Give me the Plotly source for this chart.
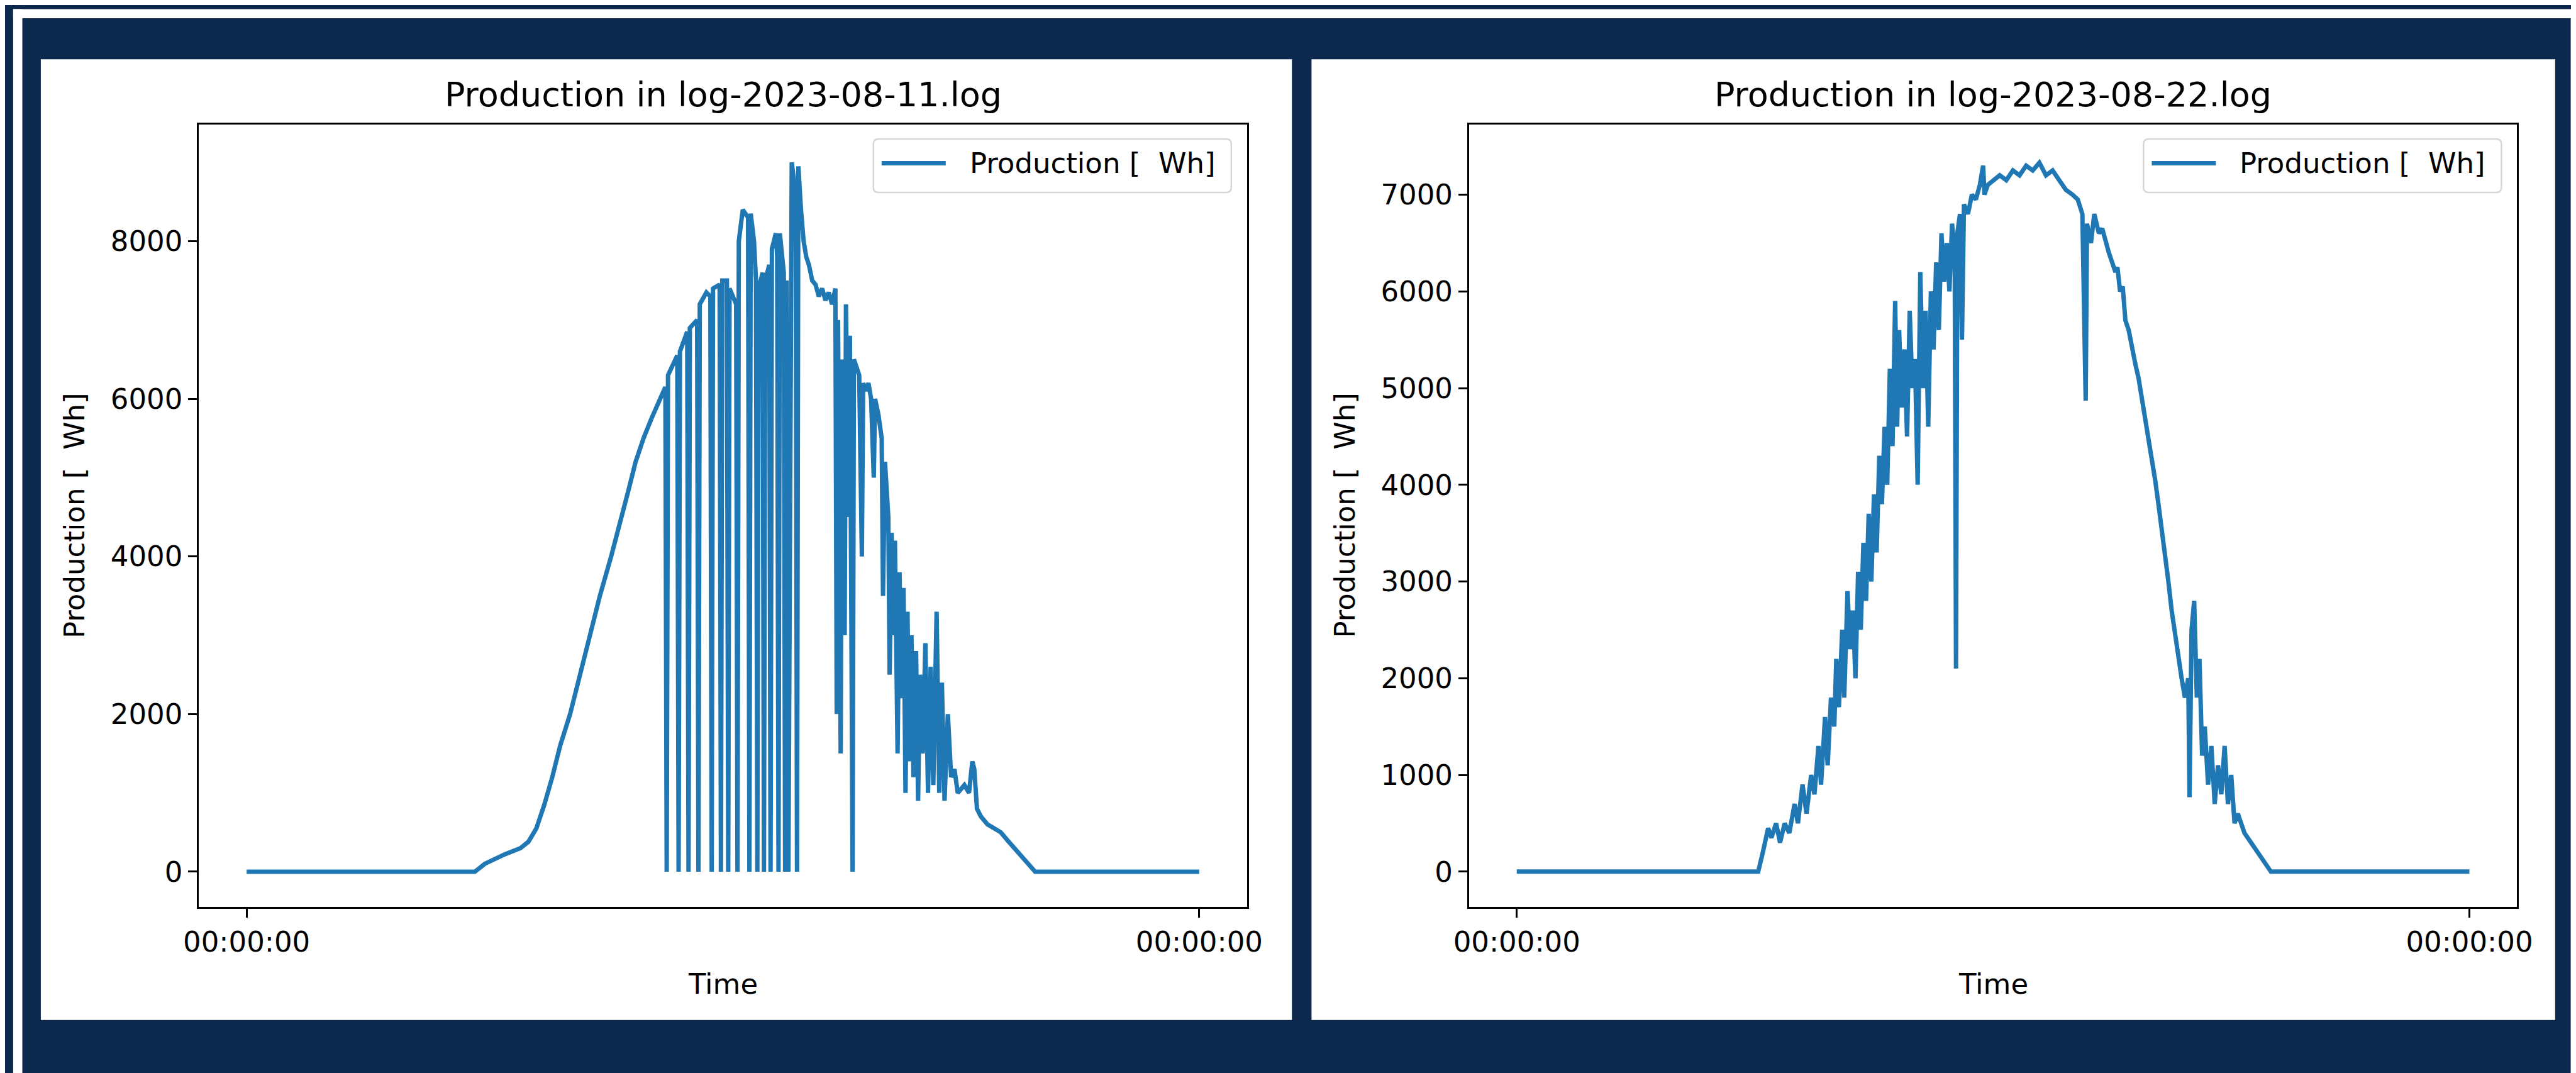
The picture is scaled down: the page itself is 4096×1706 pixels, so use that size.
import plotly.graph_objects as go

W, H = 4096, 1706
NAVY = "#0c294d"
LINE = "#1f77b4"
FONT = "DejaVu Sans"

# ---------------- data ----------------
titles = ["Production in log-2023-08-11.log", "Production in log-2023-08-22.log"]
series_name = "Production [ \u00a0Wh]"
x_tick_labels = ["00:00:00", "00:00:00"]
y_ticks_0811 = [0, 2000, 4000, 6000, 8000]
y_ticks_0822 = [0, 1000, 2000, 3000, 4000, 5000, 6000, 7000]

times_0811 = [
    "00:00", "05:45", "06:00", "06:30", "06:54", "07:06", "07:18", "07:30", "07:42", "07:54",
    "08:09", "08:24", "08:39", "08:54", "09:11", "09:24", "09:36", "09:48", "10:00", "10:12",
    "10:26", "10:33", "10:35", "10:37", "10:51", "10:53", "10:55", "11:06", "11:08", "11:10",
    "11:21", "11:23", "11:25", "11:35", "11:41", "11:43", "11:45", "11:55", "11:57", "11:59",
    "12:06", "12:08", "12:10", "12:20", "12:22", "12:24", "12:30", "12:38", "12:40", "12:42",
    "12:47", "12:50", "12:52", "12:54", "13:00", "13:02", "13:04", "13:10", "13:12", "13:14",
    "13:20", "13:22", "13:24", "13:26", "13:32", "13:34", "13:36", "13:39", "13:44", "13:48",
    "13:50", "13:52", "13:54", "13:58", "14:02", "14:06", "14:10", "14:15", "14:20", "14:25",
    "14:30", "14:35", "14:40", "14:45", "14:50", "14:52", "14:54", "14:58", "15:00", "15:04",
    "15:06", "15:10", "15:12", "15:16", "15:18", "15:22", "15:26", "15:30", "15:32", "15:36",
    "15:40", "15:44", "15:48", "15:50", "15:55", "16:00", "16:02", "16:05", "16:10", "16:12",
    "16:15", "16:18", "16:20", "16:24", "16:27", "16:30", "16:33", "16:36", "16:39", "16:42",
    "16:45", "16:48", "16:52", "16:55", "16:58", "17:02", "17:06", "17:10", "17:14", "17:18",
    "17:23", "17:27", "17:31", "17:35", "17:40", "17:45", "17:50", "17:55", "18:05", "18:12",
    "18:17", "18:20", "18:24", "18:30", "18:40", "18:50", "19:00", "19:10", "19:20", "19:30",
    "19:40", "19:52", "24:00",
]
prod_0811 = [
    0, 0, 100, 220, 300, 380, 550, 850, 1200, 1600,
    2000, 2500, 3000, 3500, 4000, 4400, 4800, 5200, 5500, 5750,
    6000, 6150, 0, 6300, 6550, 0, 6600, 6850, 0, 6900,
    7000, 0, 7200, 7350, 7300, 0, 7400, 7450, 0, 7500,
    7500, 0, 7400, 7200, 0, 8000, 8400, 8300, 0, 8350,
    8000, 7500, 0, 7400, 7600, 0, 7500, 7700, 0, 7900,
    8100, 7800, 0, 8100, 7600, 0, 7500, 0, 9000, 8700,
    8600, 0, 8950, 8400, 8000, 7800, 7700, 7500, 7450, 7300,
    7400, 7250, 7350, 7200, 7400, 2000, 7000, 1500, 6500, 3000,
    7200, 4500, 6800, 0, 6500, 6400, 6300, 4000, 6200, 6100,
    6200, 6000, 5000, 6000, 5800, 5500, 3500, 5200, 4500, 2500,
    4300, 3000, 4200, 1500, 3800, 2200, 3600, 1000, 3300, 1400,
    3000, 1200, 2800, 900, 2500, 1500, 2900, 1000, 2600, 1100,
    3300, 1000, 2400, 900, 2000, 1200, 1300, 1000, 1100, 1000,
    1400, 1300, 800, 700, 600, 550, 500, 400, 300, 200,
    100, 0, 0,
]

times_0822 = [
    "00:00", "06:05", "06:12", "06:20", "06:25", "06:32", "06:38", "06:45", "06:52", "07:00",
    "07:05", "07:12", "07:18", "07:25", "07:30", "07:36", "07:40", "07:46", "07:50", "07:55",
    "08:00", "08:03", "08:07", "08:12", "08:15", "08:20", "08:24", "08:28", "08:32", "08:36",
    "08:40", "08:44", "08:48", "08:52", "08:56", "09:00", "09:04", "09:08", "09:12", "09:16",
    "09:20", "09:24", "09:28", "09:32", "09:35", "09:38", "09:42", "09:46", "09:50", "09:54",
    "09:58", "10:02", "10:06", "10:10", "10:14", "10:18", "10:22", "10:26", "10:30", "10:34",
    "10:38", "10:42", "10:46", "10:50", "10:54", "10:58", "11:02", "11:04", "11:06", "11:10",
    "11:13", "11:16", "11:22", "11:28", "11:34", "11:40", "11:45", "11:47", "11:52", "12:00",
    "12:10", "12:20", "12:30", "12:40", "12:50", "13:00", "13:10", "13:20", "13:30", "13:40",
    "13:50", "14:00", "14:08", "14:15", "14:20", "14:22", "14:28", "14:33", "14:40", "14:45",
    "14:50", "14:55", "15:00", "15:05", "15:08", "15:12", "15:16", "15:20", "15:25", "15:30",
    "15:35", "15:40", "15:45", "15:50", "15:55", "16:00", "16:05", "16:10", "16:15", "16:20",
    "16:25", "16:30", "16:35", "16:40", "16:45", "16:50", "16:55", "16:57", "17:00", "17:04",
    "17:08", "17:12", "17:16", "17:20", "17:25", "17:30", "17:35", "17:40", "17:45", "17:50",
    "17:55", "18:00", "18:05", "18:10", "18:20", "18:30", "18:40", "18:50", "19:00", "24:00",
]
prod_0822 = [
    0, 0, 200, 450, 350, 500, 300, 500, 400, 700,
    500, 900, 600, 1000, 800, 1300, 900, 1600, 1100, 1800,
    1500, 2200, 1700, 2500, 1800, 2900, 2300, 2700, 2000, 3100,
    2500, 3400, 2800, 3700, 3000, 3900, 3300, 4300, 3800, 4600,
    4000, 5200, 4400, 5900, 4600, 5600, 4800, 5400, 4500, 5800,
    5000, 5300, 4000, 6200, 5000, 5800, 4600, 6000, 5400, 6300,
    5600, 6600, 6100, 6500, 6000, 6700, 6400, 2100, 6600, 6800,
    5500, 6900, 6800, 7000, 6950, 7100, 7300, 7000, 7100, 7150,
    7200, 7150, 7250, 7200, 7300, 7250, 7330, 7200, 7250, 7150,
    7050, 7000, 6950, 6800, 4870, 6700, 6500, 6800, 6600, 6650,
    6500, 6400, 6300, 6200, 6250, 6000, 6050, 5700, 5600, 5400,
    5250, 5100, 4900, 4700, 4500, 4300, 4050, 3800, 3550, 3300,
    3000, 2700, 2450, 2200, 2000, 1800, 2000, 770, 2500, 2800,
    1800, 2200, 1200, 1500, 900, 1300, 700, 1100, 800, 1300,
    700, 1000, 500, 600, 400, 300, 200, 100, 0, 0,
]


def to_hours(ts):
    out = []
    for t in ts:
        h, m = t.split(":")
        out.append(int(h) + int(m) / 60.0)
    return out


# ---------------- geometry helpers (pixel -> paper) ----------------
def X(x):
    return x / W


def Y(y):
    return 1 - y / H


AX_TOP, AX_BOT = 190.0, 1434.0
AXES = [(308.4, 1974.6), (2328.0, 3994.2)]
Y_RANGES = [[-447, 9480], [-365, 7725]]
Y_TICKS = [y_ticks_0811, y_ticks_0822]

fig = go.Figure()
fig.add_trace(go.Scatter(x=to_hours(times_0811), y=prod_0811, mode="lines",
                         line=dict(color=LINE, width=7), name=series_name,
                         xaxis="x", yaxis="y", showlegend=False))
fig.add_trace(go.Scatter(x=to_hours(times_0822), y=prod_0822, mode="lines",
                         line=dict(color=LINE, width=7), name=series_name,
                         xaxis="x2", yaxis="y2", showlegend=False))

tickfont = dict(family=FONT, size=45, color="black")
common = dict(showline=True, mirror=True, linecolor="black", linewidth=3,
              ticks="outside", ticklen=14, tickwidth=3, tickcolor="black",
              showgrid=False, zeroline=False, tickfont=tickfont, fixedrange=True,
              automargin=False)

layout = dict(
    template="none",
    width=W, height=H, margin=dict(l=0, r=0, t=0, b=0, pad=0, autoexpand=False),
    paper_bgcolor=NAVY, plot_bgcolor="white", showlegend=False,
)
for i, (a0, a1) in enumerate(AXES):
    sx = "" if i == 0 else "2"
    layout["xaxis" + sx] = dict(common, domain=[X(a0), X(a1)], range=[-1.2, 25.2],
                               tickmode="array", tickvals=[0, 24], ticktext=x_tick_labels,
                               anchor="y" + sx)
    layout["yaxis" + sx] = dict(common, domain=[Y(AX_BOT), Y(AX_TOP)], range=Y_RANGES[i],
                               tickmode="array", tickvals=Y_TICKS[i],
                               ticktext=[str(v) for v in Y_TICKS[i]],
                               anchor="x" + sx)

shapes = []
# outer white frame stripes
for (x0, y0, x1, y1) in [(12.9, 6.4, W, 21.1), (12.9, 6.4, 27.5, H), (4079.6, 6.4, W, H)]:
    shapes.append(dict(type="rect", xref="paper", yref="paper", x0=X(x0), x1=X(x1),
                       y0=Y(y1), y1=Y(y0), fillcolor="white", line=dict(width=0), layer="below"))
# white panels
for (x0, x1) in [(56.9, 2046.2), (2077.4, 4054.8)]:
    shapes.append(dict(type="rect", xref="paper", yref="paper", x0=X(x0), x1=X(x1),
                       y0=Y(1613.8), y1=Y(86.3), fillcolor="white", line=dict(width=0),
                       layer="below"))


def rrect(x0, y0, x1, y1, r):
    return (f"M {X(x0 + r)},{Y(y0)} L {X(x1 - r)},{Y(y0)} Q {X(x1)},{Y(y0)} {X(x1)},{Y(y0 + r)} "
            f"L {X(x1)},{Y(y1 - r)} Q {X(x1)},{Y(y1)} {X(x1 - r)},{Y(y1)} "
            f"L {X(x0 + r)},{Y(y1)} Q {X(x0)},{Y(y1)} {X(x0)},{Y(y1 - r)} "
            f"L {X(x0)},{Y(y0 + r)} Q {X(x0)},{Y(y0)} {X(x0 + r)},{Y(y0)} Z")


annotations = []
for i, (a0, a1) in enumerate(AXES):
    cx = (a0 + a1) / 2
    annotations.append(dict(text=titles[i], xref="paper", yref="paper", x=X(cx), y=Y(142),
                            xanchor="center", yanchor="middle", showarrow=False,
                            font=dict(family=FONT, size=54, color="black")))
    annotations.append(dict(text=series_name, xref="paper", yref="paper", x=X(a0 - 197.4),
                            y=Y((AX_TOP + AX_BOT) / 2), xanchor="center", yanchor="middle",
                            textangle=-90, showarrow=False,
                            font=dict(family=FONT, size=45, color="black")))
    annotations.append(dict(text="Time", xref="paper", yref="paper", x=X(cx), y=Y(1556),
                            xanchor="center", yanchor="middle", showarrow=False,
                            font=dict(family=FONT, size=45, color="black")))
    bx1 = a1 - 24.8
    bx0 = bx1 - 569
    by0, by1 = 213, 298
    shapes.append(dict(type="path", xref="paper", yref="paper", path=rrect(bx0, by0, bx1, by1, 8),
                       fillcolor="rgba(255,255,255,0.8)", line=dict(color="#d6d6d6", width=2.5),
                       layer="above"))
    shapes.append(dict(type="line", xref="paper", yref="paper", x0=X(bx0 + 13), x1=X(bx0 + 115),
                       y0=Y(251.5), y1=Y(251.5), line=dict(color=LINE, width=7), layer="above"))
    annotations.append(dict(text=series_name, xref="paper", yref="paper", x=X(bx0 + 151),
                            y=Y(251.5), xanchor="left", yanchor="middle", showarrow=False,
                            font=dict(family=FONT, size=45, color="black")))

layout["shapes"] = shapes
layout["annotations"] = annotations
fig.update_layout(**layout)
fig.write_html("out.html")
